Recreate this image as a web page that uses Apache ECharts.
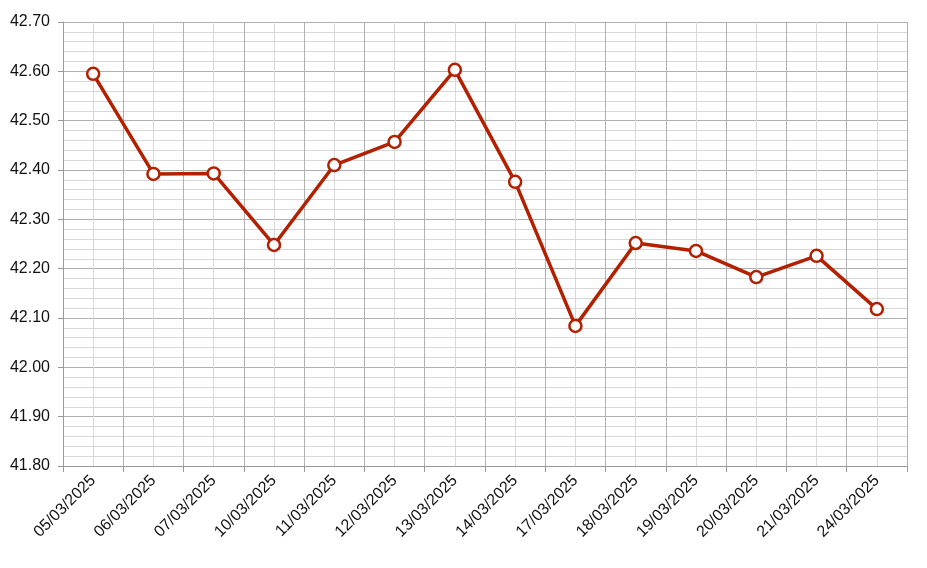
<!DOCTYPE html>
<html><head><meta charset="utf-8">
<script src="https://cdn.jsdelivr.net/npm/echarts@6/dist/echarts.min.js"></script>
<style>html,body{margin:0;padding:0;background:#fff}#c{width:927px;height:568px}</style>
</head><body><div id="c"></div>
<script>
const categories = ["05/03/2025","06/03/2025","07/03/2025","10/03/2025","11/03/2025","12/03/2025","13/03/2025","14/03/2025","17/03/2025","18/03/2025","19/03/2025","20/03/2025","21/03/2025","24/03/2025"];
const values = [42.595,42.392,42.393,42.248,42.410,42.457,42.603,42.376,42.084,42.252,42.236,42.183,42.226,42.118];
const yMin = 41.8, yMax = 42.7, yStep = 0.1;

const chart = echarts.init(document.getElementById('c'));
chart.setOption({
  animation:false,
  grid:{left:63,right:20,top:22,bottom:102},
  xAxis:[
    {type:'category',data:categories,boundaryGap:true,
     axisLine:{lineStyle:{color:'#9a9a9a',width:1}},
     axisTick:{show:true,length:6,lineStyle:{color:'#9a9a9a'}},
     axisLabel:{rotate:45,color:'#111',fontFamily:'Liberation Sans, Arial',fontSize:16,margin:12,interval:0},
     splitLine:{show:false}},
    {type:'value',min:0,max:categories.length,interval:1,show:true,position:'bottom',
     axisLine:{show:false},axisTick:{show:false},axisLabel:{show:false},
     splitLine:{show:true,lineStyle:{color:'#b0b0b0',width:1}},
     minorTick:{show:false,splitNumber:2},
     minorSplitLine:{show:true,lineStyle:{color:'#d8d8d8',width:1}}}
  ],
  yAxis:{type:'value',min:yMin,max:yMax,interval:yStep,
    axisLine:{show:true,lineStyle:{color:'#9a9a9a'}},
    axisTick:{show:true,length:5,lineStyle:{color:'#9a9a9a'}},
    axisLabel:{color:'#111',fontFamily:'Liberation Sans, Arial',fontSize:16,margin:13,
      formatter:v=>v.toFixed(2)},
    splitLine:{show:true,lineStyle:{color:'#b0b0b0'}},
    minorTick:{show:false,splitNumber:5},
    minorSplitLine:{show:true,lineStyle:{color:'#d8d8d8'}}},
  series:[{type:'line',data:values,xAxisIndex:0,
    lineStyle:{color:'#b22000',width:3.5},
    itemStyle:{color:'#fff',borderColor:'#b22000',borderWidth:2.5},
    symbol:'circle',symbolSize:12,showSymbol:true,z:5}]
});
</script></body></html>
